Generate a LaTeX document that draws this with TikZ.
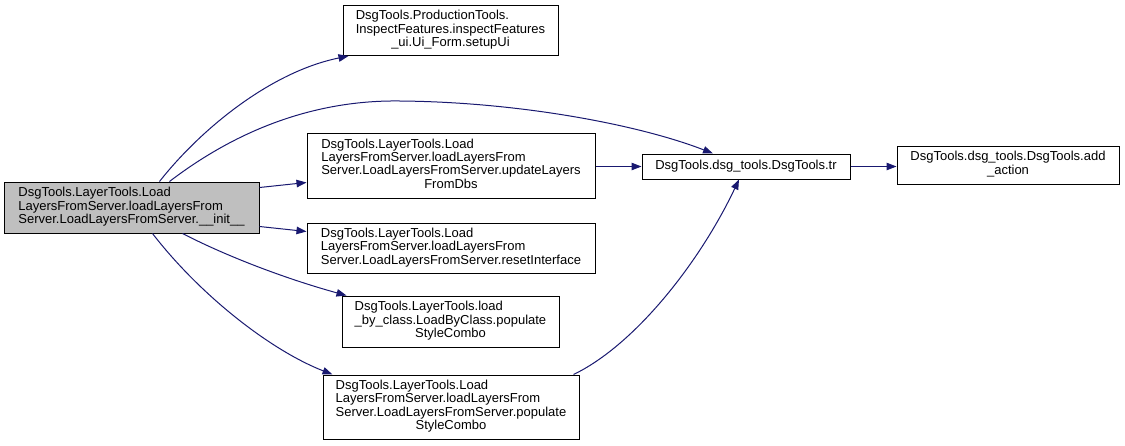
\documentclass[tikz,border=0pt]{standalone}
\usepackage{fontspec}
\setmainfont{Liberation Sans}
\usetikzlibrary{arrows.meta,calc}
\definecolor{edgeblue}{HTML}{191970}
\definecolor{nodegray}{HTML}{BFBFBF}
\newcommand\dlab[2]{\begin{tabular}{@{}l@{}}#1\\\multicolumn{1}{@{}c@{}}{#2}\end{tabular}}
\begin{document}
\begin{tikzpicture}[x=1pt,y=-1pt,
  box/.style={draw=black,line width=1pt,fill=white,inner sep=0pt,align=center,font=\fontsize{13}{13.4}\selectfont},
  edge/.style={draw=edgeblue,line width=1pt,-{Triangle[length=10pt,width=7.5pt]}},
]
\useasboundingbox (0,0) rectangle (1125,445);
\node[box,fill=nodegray,minimum width=255pt,minimum height=51pt] (A) at (131.5,207.5)
  {\dlab{DsgTools.LayerTools.Load\\LayersFromServer.loadLayersFrom}{Server.LoadLayersFromServer.\_\_init\_\_}};
\node[box,minimum width=215pt,minimum height=50pt] (B) at (450.5,30.5)
  {\dlab{DsgTools.ProductionTools.\\InspectFeatures.inspectFeatures}{\_ui.Ui\_Form.setupUi}};
\node[box,minimum width=288pt,minimum height=65pt] (C) at (451,165.5)
  {\dlab{DsgTools.LayerTools.Load\\LayersFromServer.loadLayersFrom\\Server.LoadLayersFromServer.updateLayers}{FromDbs}};
\node[box,minimum width=208pt,minimum height=25pt] (D) at (746,166.5)
  {DsgTools.dsg\_tools.DsgTools.tr};
\node[box,minimum width=222pt,minimum height=38pt] (E) at (1008,165)
  {\dlab{DsgTools.dsg\_tools.DsgTools.add}{\_action}};
\node[box,minimum width=288pt,minimum height=50pt] (F) at (451,248)
  {\dlab{DsgTools.LayerTools.Load\\LayersFromServer.loadLayersFrom}{Server.LoadLayersFromServer.resetInterface}};
\node[box,minimum width=217pt,minimum height=51pt] (G) at (450.5,321.5)
  {\dlab{DsgTools.LayerTools.load\\\_by\_class.LoadByClass.populate}{StyleCombo}};
\node[box,minimum width=256pt,minimum height=64pt] (H) at (451,407)
  {\dlab{DsgTools.LayerTools.Load\\LayersFromServer.loadLayersFrom\\Server.LoadLayersFromServer.populate}{StyleCombo}};

% edges
\draw[edge] ($(A.north west)+(156,0)$) .. controls (200,130) and (270,72) .. ($(B.south west)+(6,0)$);
\draw[edge] ($(A.north west)+(166,0)$) .. controls (250,120) and (330,100) .. (400,101)
  .. controls (520,102) and (640,125) .. ($(D.north)+(-33,0)$);
\draw[edge] ($(A.north east)+(0,6)$) -- ($(C.south west)+(0,-16)$);
\draw[edge] ($(A.south east)+(0,-7)$) -- ($(F.north west)+(0,9)$);
\draw[edge] (C.east|-D.west) -- (D.west);
\draw[edge] (D.east) -- (D.east-|E.west);
\draw[edge] ($(A.south west)+(179,0)$) .. controls (230,258) and (290,280) .. ($(G.north west)+(5,0)$);
\draw[edge] ($(A.south west)+(149,0)$) .. controls (200,295) and (270,350) .. ($(H.north west)+(10,0)$);
\draw[edge] ($(H.north east)+(-6,0)$) .. controls (635,345) and (700,262) .. ($(D.south)+(-7,0)$);
\end{tikzpicture}
\end{document}
